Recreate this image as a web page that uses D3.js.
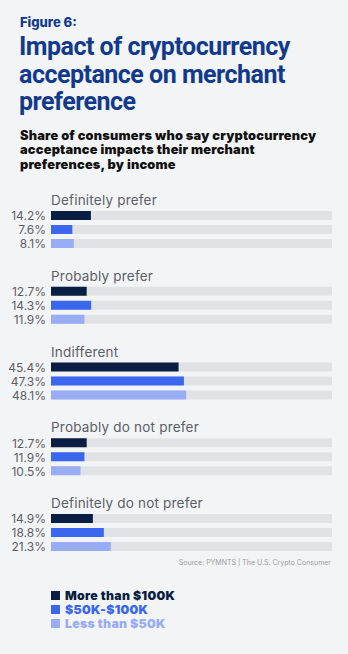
<!DOCTYPE html>
<html>
<head>
<meta charset="utf-8">
<script src="https://cdn.jsdelivr.net/npm/d3@7"></script>
<style>
  html, body { margin: 0; padding: 0; background: #f3f4f6; }
  svg { display: block; }
</style>
</head>
<body>
<script>
const categories = ["Definitely prefer", "Probably prefer", "Indifferent", "Probably do not prefer", "Definitely do not prefer"];
const seriesNames = ["More than $100K", "$50K-$100K", "Less than $50K"];
const moreThan100K = [14.2, 12.7, 45.4, 12.7, 14.9];
const from50Kto100K = [7.6, 14.3, 47.3, 11.9, 18.8];
const lessThan50K = [8.1, 11.9, 48.1, 10.5, 21.3];
const seriesColors = ["#0a1d42", "#3a67ee", "#98adf5"];

const W = 348, H = 654;
const svg = d3.select("body").append("svg").attr("width", W).attr("height", H);
svg.append("rect").attr("width", W).attr("height", H).attr("fill", "#f3f4f6");

const navy = "#113a8c";
svg.append("text").attr("x", 20).attr("y", 26.5)
  .attr("font-family", "Inter").attr("font-weight", 800).attr("font-size", 13)
  .attr("fill", navy).text("Figure 6:");

const titleLines = ["Impact of cryptocurrency", "acceptance on merchant", "preference"];
svg.append("g").selectAll("text").data(titleLines).join("text")
  .attr("x", 19).attr("y", (d, i) => 54.8 + i * 27.8)
  .attr("font-family", "Roboto").attr("font-weight", 700).attr("font-size", 25)
  .attr("letter-spacing", -0.5)
  .attr("fill", navy).text(d => d);

const subLines = ["Share of consumers who say cryptocurrency", "acceptance impacts their merchant", "preferences, by income"];
svg.append("g").selectAll("text").data(subLines).join("text")
  .attr("x", 20).attr("y", (d, i) => 140 + i * 14.3)
  .attr("font-family", "Inter").attr("font-weight", 900).attr("font-size", 12.8)
  .attr("letter-spacing", 0.2)
  .attr("fill", "#111").text(d => d);

const series = [moreThan100K, from50Kto100K, lessThan50K];
const x = d3.scaleLinear().domain([0, 100]).range([51, 332]);
const groupY = d3.scalePoint().domain(categories).range([211, 514]);
const barH = 9;

const groups = svg.append("g").selectAll("g").data(categories).join("g")
  .attr("transform", d => `translate(0,${groupY(d)})`);

groups.append("text").attr("x", 51).attr("y", -6)
  .attr("font-family", "Inter").attr("font-size", 13.5).attr("letter-spacing", 0.2)
  .attr("fill", "#5b5f66").text(d => d);

const rows = groups.selectAll("g.row")
  .data((c, ci) => seriesNames.map((s, si) => ({ s, si, v: series[si][ci] })))
  .join("g").attr("class", "row")
  .attr("transform", d => `translate(0,${d.si * 14})`);

rows.append("rect").attr("x", x(0)).attr("y", 0)
  .attr("width", x(100) - x(0)).attr("height", barH).attr("fill", "#e1e2e5");
rows.append("rect").attr("x", x(0)).attr("y", 0)
  .attr("width", d => x(d.v) - x(0)).attr("height", barH).attr("fill", d => seriesColors[d.si]);
rows.append("text").attr("x", 46).attr("y", barH + 0.3).attr("text-anchor", "end")
  .attr("font-family", "Inter").attr("font-size", 12)
  .attr("fill", "#5b5f66").text(d => d.v.toFixed(1) + "%");

svg.append("text").attr("x", 331).attr("y", 565).attr("text-anchor", "end")
  .attr("font-family", "Inter").attr("font-size", 7).attr("fill", "#9a9da3")
  .text("Source: PYMNTS | The U.S. Crypto Consumer");

const legend = svg.append("g").selectAll("g").data(seriesNames).join("g")
  .attr("transform", (d, i) => `translate(51,${591 + i * 14})`);
legend.append("rect").attr("width", 9).attr("height", 9).attr("fill", (d, i) => seriesColors[i]);
legend.append("text").attr("x", 14).attr("y", 9.3)
  .attr("font-family", "Inter").attr("font-weight", 900).attr("font-size", 12.3)
  .attr("letter-spacing", 0.3)
  .attr("fill", (d, i) => seriesColors[i]).text(d => d);
</script>
</body>
</html>
